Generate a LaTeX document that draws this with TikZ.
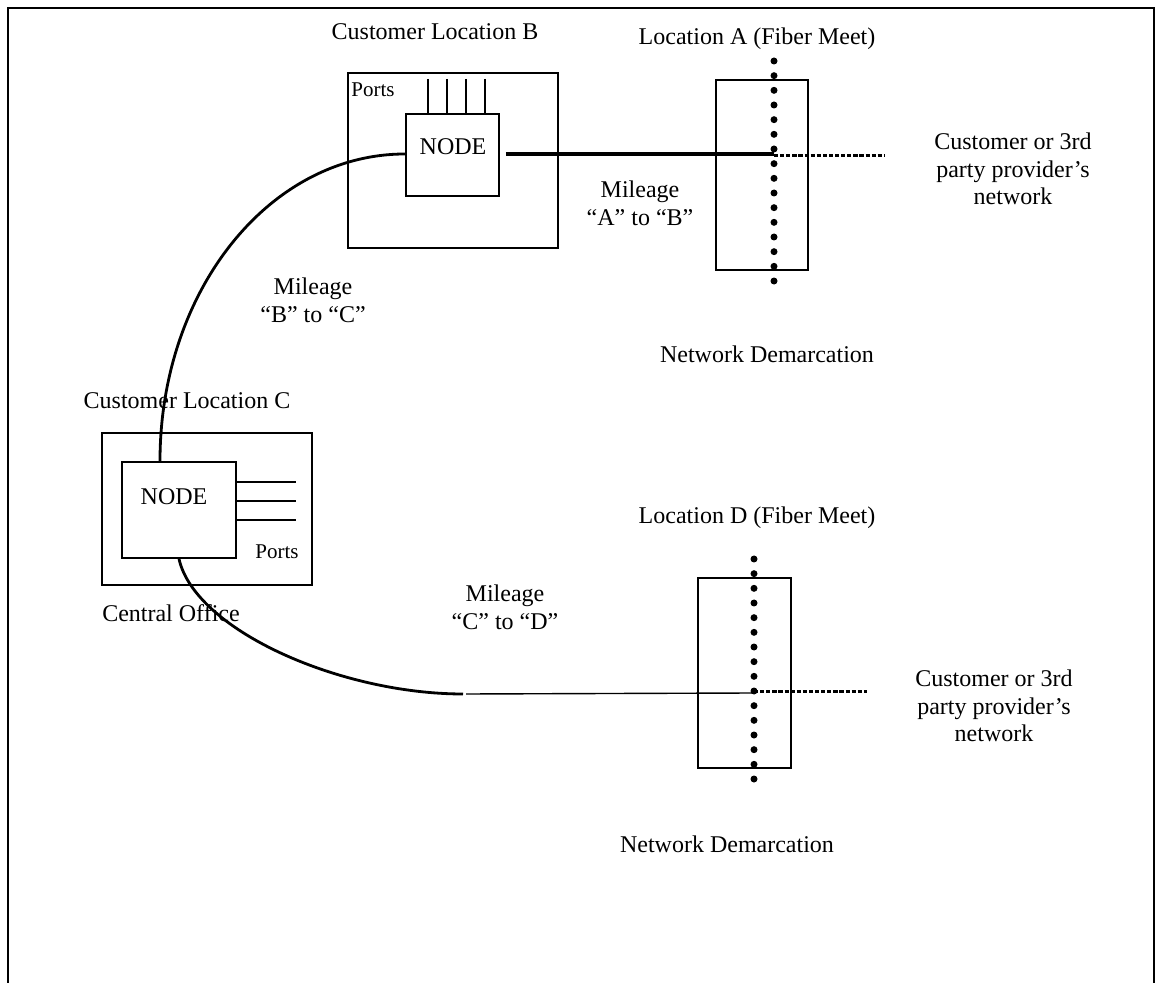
\documentclass[tikz,border=0pt]{standalone}
\usepackage{fontspec}
\setmainfont{Liberation Serif}
\usetikzlibrary{calc}
\begin{document}
\begin{tikzpicture}[x=0.5pt,y=-0.5pt,
  txt/.style={inner sep=0pt, font=\fontsize{12}{13.8}\selectfont, align=center},
  smalltxt/.style={inner sep=0pt, font=\fontsize{10.5}{12}\selectfont},
  box/.style={draw, line width=0.95pt, inner sep=0pt, rectangle},
  fiber/.style={line width=1.7pt},
  cable/.style={line width=1.4pt},
  thinline/.style={line width=0.7pt},
  ext/.style={line width=1.5pt, dash pattern=on 2.1pt off 0.95pt},
  framestyle/.style={line width=1pt},
  port/.style={line width=0.9pt},
  demdot/.style={fill=black}]
\useasboundingbox (0,0) rectangle (1157,983);

% outer frame (open at bottom)
\draw[framestyle] (8,983) -- (8,8) -- (1154,8) -- (1154,983);

% ---------- Customer Location B ----------
\node[box, minimum width=105pt, minimum height=87.5pt] (boxB) at (453,160.5) {};
\node[box, minimum width=46.5pt, minimum height=41pt] (nodeB) at (452.5,155) {};
\node[txt] (nodeBtxt) at (453,147) {NODE};
\node[smalltxt] (portsB) at (373,90) {Ports};
\foreach \px in {428,447,466,485}
  \draw[port] (\px,79) -- (\px,0 |- nodeB.north);
\node[txt] (locB) at (435,32) {Customer Location B};

% ---------- Location A ----------
\node[box, minimum width=46pt, minimum height=95pt] (rectA) at (762,175) {};
\foreach \k in {0,...,15}
  \fill[demdot] (774,{61+\k*14.667}) circle[radius=1.75pt];
\coordinate (jA) at (774,154);
\coordinate (extA) at (885,156);
\node[txt] (locA) at (757,39) {Location A (Fiber Meet)};
\node[txt] (custA) at (1013,169) {Customer or 3rd\\party provider’s\\network};
\node[txt] (milAB) at (640,203) {Mileage\\“A” to “B”};
\node[txt] (demA) at (767,354) {Network Demarcation};

\draw[fiber] ([xshift=3pt]nodeB.east |- jA) -- (jA);
\draw[ext] (774,156) -- (extA);

% ---------- Customer Location C ----------
\node[box, minimum width=105pt, minimum height=76pt] (boxC) at (207,509) {};
\node[box, minimum width=57pt, minimum height=48pt] (nodeC) at (179,510) {};
\node[txt] (nodeCtxt) at (174,497) {NODE};
\node[smalltxt] (portsC) at (277,552) {Ports};
\foreach \py in {482,501,520}
  \draw[port] (nodeC.east |- 0,\py) -- (296,\py);
\node[txt] (locC) at (187,401) {Customer Location C};
\node[txt] (central) at (171,613) {Central Office};
\node[txt] (milBC) at (313,300) {Mileage\\“B” to “C”};

% curve B -> C
\draw[cable] (nodeB.west |- jA) .. controls +(-136,0) and +(0,-170) .. ([xshift=-9.5pt]nodeC.north);

% ---------- Location D ----------
\node[box, minimum width=46.5pt, minimum height=95pt] (rectD) at (744.5,673) {};
\foreach \k in {0,...,15}
  \fill[demdot] (754,{559+\k*14.667}) circle[radius=1.75pt];
\coordinate (jD) at (754,693);
\coordinate (bendD) at (463,694);
\coordinate (extD) at (867,692);
\node[txt] (locD) at (757,518) {Location D (Fiber Meet)};
\node[txt] (custD) at (994,706) {Customer or 3rd\\party provider’s\\network};
\node[txt] (milCD) at (505,607) {Mileage\\“C” to “D”};
\node[txt] (demD) at (727,844) {Network Demarcation};

% curve C -> D
\draw[cable] (nodeC.south) .. controls (195,630) and (340,694) .. (bendD);
\draw[thinline] ([xshift=1.5pt]bendD) -- (jD);
\draw[ext] (754,692) -- (extD);
\end{tikzpicture}
\end{document}
